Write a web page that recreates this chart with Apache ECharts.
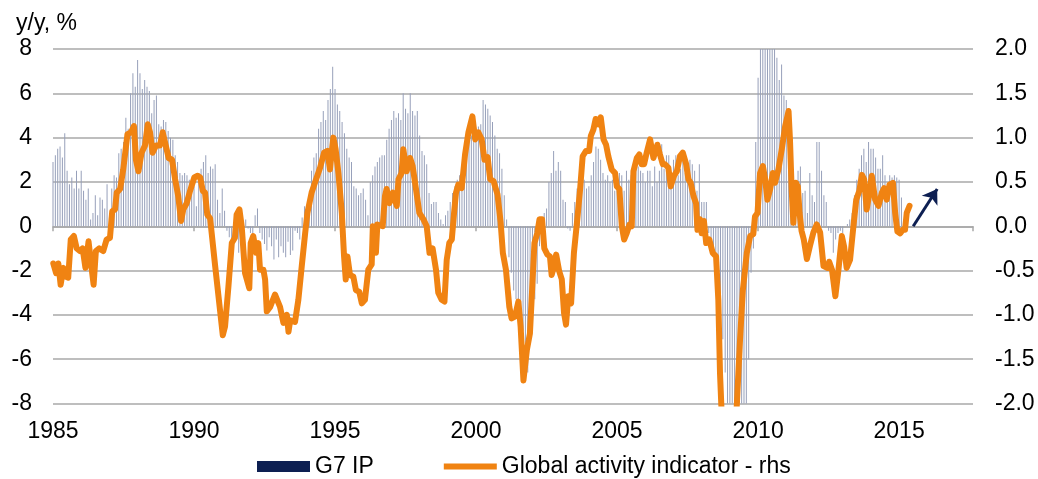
<!DOCTYPE html>
<html>
<head>
<meta charset="utf-8">
<script src="https://cdn.jsdelivr.net/npm/echarts@6/dist/echarts.min.js"></script>
<style>
html, body { margin: 0; padding: 0; background: #fff; }
#chart { width: 1038px; height: 479px; }
</style>
</head>
<body>
<div id="chart"></div>
<script>
// G7 IP, y/y %, monthly from Jan 1985 (one row per year)
var ipStartYear = 1985;
var ipValues = [
  2.9, 3.2, 3.5, 3.6, 3.1, 4.2, 2.5, 1.9, 2.2, 1.7, 2.5, 1.7,
  2.5, 1.6, 1.2, 1.7, 0.3, 0.6, 1.4, 0.5, 1.3, 1.2, 0.8, 1.9,
  0.4, 1.7, 2.3, 2.2, 3.3, 3.5, 3.8, 4.9, 4.4, 6.0, 6.9, 6.3,
  7.5, 6.9, 6.2, 6.6, 6.3, 6.1, 5.1, 5.7, 5.9, 4.6, 4.5, 4.8,
  4.7, 4.3, 4.0, 3.9, 3.2, 2.9, 2.4, 2.3, 2.4, 2.3, 2.1, 1.7,
  1.8, 0.9, 2.4, 2.6, 2.9, 3.2, 2.4, 2.7, 2.6, 2.8, 1.2, 0.6,
  1.7, 0.7, -0.2, -0.5, -0.6, -0.4, -0.6, -1.2, -0.2, -0.5, 0.3, -0.1,
  -0.3, -0.4, 0.5, 0.8, -0.3, -0.6, -0.8, -1.1, -0.5, -0.9, -1.5, -0.6,
  -1.4, -0.9, -1.2, -1.4, -0.7, -1.3, -1.1, -0.2, -0.3, -0.6, 0.4, 0.9,
  0.6, 1.2, 2.5, 3.1, 3.3, 4.4, 4.7, 5.2, 4.8, 5.7, 6.2, 7.2,
  6.2, 5.5, 5.2, 4.7, 4.2, 3.5, 3.1, 2.9, 1.8, 1.7, 1.4, 1.5,
  1.7, 1.2, 0.5, 2.0, 2.3, 2.7, 2.9, 3.1, 3.2, 3.2, 3.9, 4.4,
  4.8, 5.2, 4.9, 5.1, 4.8, 6.0, 5.3, 5.1, 6.0, 5.2, 5.0, 5.2,
  4.1, 3.4, 3.2, 2.8, 1.5, 1.0, 1.1, 1.1, 0.6, 0.3, 0.1, 0.5,
  0.7, 1.1, 1.5, 1.8, 2.1, 2.3, 2.7, 3.1, 3.5, 3.8, 4.1, 3.9,
  3.9, 4.5, 4.6, 5.7, 5.5, 5.3, 5.0, 4.7, 4.1, 3.5, 3.3, 2.6,
  1.4, 0.3, -1.4, -2.1, -2.9, -3.3, -3.6, -3.9, -4.7, -5.7, -6.6, -5.0,
  -4.5, -3.3, -2.6, -0.9, -0.3, 0.6, 0.8, 2.0, 2.4, 3.4, 2.5, 2.9,
  2.5, 1.2, 1.1, -0.1, -0.2, 0.6, 1.1, 1.7, 2.1, 2.2, 2.1, 1.7,
  1.8, 2.3, 2.9, 3.6, 3.5, 3.0, 2.4, 2.1, 2.3, 2.0, 2.1, 1.6,
  1.7, 2.4, 2.3, 1.6, 2.5, 2.1, 2.3, 1.8, 2.8, 2.7, 2.5, 2.4,
  2.0, 2.5, 2.5, 1.8, 2.7, 2.0, 2.5, 3.7, 2.6, 3.2, 3.2, 2.3,
  3.0, 3.2, 2.3, 2.6, 3.3, 2.4, 2.2, 3.0, 2.8, 2.5, 1.6, 2.8,
  1.1, 1.1, 1.1, -0.3, -0.6, -1.2, -2.1, -3.0, -4.1, -5.1, -6.6, -10.0,
  -14.0, -15.0, -16.0, -15.0, -14.0, -12.5, -11.0, -8.6, -6.0, -2.1, -1.0, 3.8,
  6.7, 9.5, 11.0, 12.0, 11.5, 10.5, 9.0, 8.5, 7.6, 6.6, 7.3, 5.9,
  5.7, 3.9, 2.1, 1.5, 1.2, 2.5, 2.7, 1.5, 1.6, 0.6, 2.4, 1.4,
  1.1, 3.8, 3.8, 2.5, 1.4, 1.1, -0.2, -0.3, -1.2, -0.6, -0.3, -0.2,
  -0.3, 0.0, 0.1, 0.3, 0.6, 1.4, 2.1, 2.6, 3.2, 3.5, 2.9, 3.8,
  3.5, 3.5, 3.1, 2.6, 2.6, 3.2, 2.3, 1.4, 2.3, 2.2, 2.3, 2.2,
  2.1, 1.3
];

// Global activity indicator (rhs), read at the line's turning points
var gaiYears = [
  1985.01, 1985.11, 1985.19, 1985.27, 1985.37, 1985.46, 1985.54, 1985.63, 1985.74, 1985.84, 1985.96,
  1986.05, 1986.15, 1986.26, 1986.36, 1986.44, 1986.52, 1986.64, 1986.78, 1986.9,
  1987.02, 1987.1, 1987.2, 1987.26, 1987.38, 1987.49, 1987.64, 1987.77, 1987.87, 1987.94,
  1988.03, 1988.14, 1988.26, 1988.36, 1988.44, 1988.53, 1988.65, 1988.79, 1988.89,
  1989.0, 1989.1, 1989.22, 1989.33, 1989.44, 1989.54, 1989.62, 1989.74, 1989.86,
  1990.01, 1990.13, 1990.22, 1990.31, 1990.39, 1990.47, 1990.57, 1990.75, 1990.92,
  1991.02, 1991.1, 1991.22, 1991.34, 1991.45, 1991.51, 1991.61, 1991.69, 1991.81, 1991.96,
  1992.01, 1992.1, 1992.2, 1992.28, 1992.34, 1992.46, 1992.52, 1992.58, 1992.7, 1992.87,
  1993.05, 1993.17, 1993.29, 1993.35, 1993.41, 1993.58, 1993.7, 1993.82, 1993.94,
  1994.02, 1994.17, 1994.35, 1994.47, 1994.61, 1994.73, 1994.82, 1994.88, 1994.94,
  1995.02, 1995.12, 1995.24, 1995.32, 1995.38, 1995.44, 1995.53, 1995.65, 1995.74, 1995.86, 1995.95,
  1996.06, 1996.18, 1996.3, 1996.34, 1996.45, 1996.5, 1996.69, 1996.77, 1996.83, 1996.93,
  1997.05, 1997.19, 1997.25, 1997.36, 1997.42, 1997.54, 1997.66, 1997.75, 1997.87, 1997.99,
  1998.13, 1998.25, 1998.35, 1998.46, 1998.58, 1998.66, 1998.78, 1998.88, 1998.96,
  1999.05, 1999.14, 1999.22, 1999.29, 1999.37, 1999.49, 1999.61, 1999.73, 1999.87, 1999.97,
  2000.08, 2000.2, 2000.3, 2000.41, 2000.5, 2000.62, 2000.76, 2000.87, 2000.95,
  2001.06, 2001.18, 2001.26, 2001.38, 2001.5, 2001.58, 2001.68, 2001.8, 2001.91, 2001.97,
  2002.07, 2002.17, 2002.25, 2002.34, 2002.42, 2002.53, 2002.62, 2002.68, 2002.77, 2002.84, 2002.95,
  2003.04, 2003.12, 2003.19, 2003.27, 2003.37, 2003.47, 2003.59, 2003.69, 2003.78, 2003.9,
  2004.01, 2004.07, 2004.16, 2004.24, 2004.34, 2004.42, 2004.52, 2004.61, 2004.69, 2004.81, 2004.93, 2004.99,
  2005.08, 2005.17, 2005.25, 2005.34, 2005.44, 2005.52, 2005.58, 2005.7, 2005.79, 2005.87, 2005.96,
  2006.05, 2006.17, 2006.29, 2006.35, 2006.43, 2006.52, 2006.62, 2006.7, 2006.82, 2006.9,
  2007.02, 2007.12, 2007.23, 2007.33, 2007.45, 2007.53, 2007.61, 2007.71, 2007.8, 2007.85, 2007.94,
  2008.0, 2008.08, 2008.16, 2008.27, 2008.39, 2008.51, 2008.59, 2008.65, 2008.72, 2008.9,
  2009.1, 2009.24, 2009.36, 2009.46, 2009.6, 2009.72, 2009.83, 2009.89, 2009.98,
  2010.07, 2010.17, 2010.25, 2010.33, 2010.43, 2010.52, 2010.6, 2010.72, 2010.84, 2010.96,
  2011.08, 2011.13, 2011.19, 2011.25, 2011.34, 2011.41, 2011.47, 2011.54, 2011.62, 2011.73, 2011.84, 2011.96,
  2012.08, 2012.2, 2012.32, 2012.46, 2012.52, 2012.62, 2012.74, 2012.85, 2012.97,
  2013.05, 2013.14, 2013.26, 2013.38, 2013.48, 2013.59, 2013.68, 2013.76, 2013.85, 2013.95,
  2014.03, 2014.15, 2014.27, 2014.39, 2014.47, 2014.56, 2014.66, 2014.78, 2014.86, 2014.94,
  2015.04, 2015.13, 2015.21, 2015.27, 2015.37
];
var gaiValues = [
  -0.42, -0.53, -0.42, -0.66, -0.47, -0.57, -0.58, -0.15, -0.11, -0.25, -0.28,
  -0.25, -0.47, -0.17, -0.45, -0.66, -0.28, -0.25, -0.28, -0.15,
  -0.13, 0.17, 0.19, 0.38, 0.42, 0.64, 1.04, 1.06, 1.13, 0.75,
  0.62, 0.83, 0.91, 1.15, 1.06, 0.83, 0.91, 0.91, 1.06,
  0.91, 0.77, 0.75, 0.53, 0.34, 0.06, 0.19, 0.26, 0.40,
  0.55, 0.57, 0.55, 0.40, 0.38, 0.13, 0.09, -0.45, -0.94,
  -1.23, -1.13, -0.68, -0.19, -0.13, 0.13, 0.19, 0.0, -0.53, -0.70,
  -0.19, -0.11, -0.30, -0.19, -0.49, -0.49, -0.60, -0.96, -0.91, -0.77,
  -0.91, -1.09, -1.0, -1.19, -1.06, -1.08, -0.83, -0.45, -0.08,
  0.15, 0.38, 0.55, 0.66, 0.83, 0.85, 0.64, 0.83, 1.0,
  0.87, 0.60, 0.15, -0.34, -0.60, -0.34, -0.55, -0.57, -0.72, -0.74, -0.87,
  -0.83, -0.49, -0.43, 0.0, -0.30, 0.02, 0.0, 0.34, 0.42, 0.26,
  0.38, 0.23, 0.53, 0.60, 0.87, 0.62, 0.77, 0.68, 0.42, 0.15,
  0.08, 0.0, -0.30, -0.25, -0.49, -0.75, -0.83, -0.85, -0.38,
  -0.19, -0.15, 0.15, 0.38, 0.47, 0.43, 0.81, 1.06, 1.24, 0.98,
  1.06, 0.98, 0.75, 0.78, 0.53, 0.51, 0.36, 0.05, -0.30,
  -0.49, -0.91, -1.04, -1.02, -0.85, -1.13, -1.74, -1.40, -1.21, -0.83,
  -0.19, -0.08, 0.08, 0.08, -0.25, -0.32, -0.34, -0.55, -0.45, -0.32, -0.51,
  -0.60, -0.98, -1.11, -0.79, -0.87, -0.30, 0.08, 0.42, 0.79, 0.85,
  0.85, 1.02, 1.09, 1.21, 1.15, 1.23, 0.98, 0.92, 0.79, 0.64, 0.60, 0.45,
  0.42, 0.0, -0.15, -0.08, 0.02, 0.0, 0.62, 0.77, 0.81, 0.70, 0.70,
  0.83, 0.98, 0.77, 0.75, 0.92, 0.81, 0.70, 0.70, 0.66, 0.45,
  0.57, 0.62, 0.79, 0.83, 0.70, 0.53, 0.49, 0.34, 0.26, -0.04, 0.08,
  -0.08, 0.06, -0.19, -0.15, -0.30, -0.34, -0.83, -1.66, -2.2, -2.6,
  -2.6, -2.05, -1.28, -0.72, -0.30, -0.11, -0.09, 0.11, 0.15,
  0.60, 0.68, 0.53, 0.30, 0.42, 0.60, 0.49, 0.64, 0.87, 1.13,
  1.30, 0.98, 0.42, 0.04, 0.49, 0.45, 0.15, -0.05, -0.15, -0.37, -0.22, -0.07,
  0.02, -0.07, -0.45, -0.47, -0.40, -0.49, -0.79, -0.49, -0.11,
  -0.23, -0.47, -0.38, 0.0, 0.30, 0.40, 0.58, 0.53, 0.19, 0.38,
  0.57, 0.30, 0.23, 0.38, 0.43, 0.30, 0.47, 0.49, 0.15, -0.06,
  -0.08, -0.04, -0.04, 0.15, 0.23
];

var xTickYears = [1985, 1990, 1995, 2000, 2005, 2010, 2015];
var arrowFrom = [2015.5, 0.0];
var arrowTo = [2016.35, 0.42];

var font = '"Liberation Sans", Arial, sans-serif';
var navy = '#0d1f52';
var barBlue = '#97a0ba';
var orange = '#f08312';
var gridGray = '#a8a8a8';

var ipData = ipValues.map(function (v, i) { return [ipStartYear + i / 12, v]; });
var gaiData = gaiYears.map(function (t, i) { return [t, gaiValues[i]]; });

var chart = echarts.init(document.getElementById('chart'));
chart.setOption({
  animation: false,
  textStyle: { fontFamily: font },
  title: {
    text: 'y/y, %', left: 16, top: 12, padding: 0,
    textStyle: { fontSize: 23, fontWeight: 'normal', color: '#000', fontFamily: font }
  },
  legend: {
    left: 257, top: 455, padding: 0, itemWidth: 53, itemHeight: 11, itemGap: 70,
    textStyle: { fontSize: 23, color: '#000', fontFamily: font },
    data: [
      { name: 'G7 IP', icon: 'path://M0,0H53V11H0Z', itemStyle: { color: navy, borderWidth: 0, decal: 'none' } },
      { name: 'Global activity indicator - rhs', icon: 'path://M0,0H53V6H0Z', itemStyle: { color: orange } }
    ]
  },
  grid: { left: 53, right: 65, top: 49, bottom: 75.5, containLabel: false, outerBoundsMode: 'none' },
  xAxis: [
    {
      type: 'value', min: 1985, max: 2017.62, interval: 5, position: 'bottom',
      axisLine: { show: false, onZero: false }, axisTick: { show: false }, splitLine: { show: false },
      axisLabel: {
        fontSize: 23, color: '#000', margin: 17, showMaxLabel: false, fontFamily: font,
        formatter: function (v) { return xTickYears.indexOf(v) >= 0 ? String(v) : ''; }
      }
    },
    {
      type: 'value', min: 1985, max: 2017.62, interval: 5, position: 'bottom',
      axisLine: { show: true, onZero: true, onZeroAxisIndex: 0, lineStyle: { color: gridGray, width: 1.5 } },
      axisTick: { show: true, length: 5, lineStyle: { color: gridGray, width: 1.5 } },
      axisLabel: { show: false }, splitLine: { show: false }
    }
  ],
  yAxis: [
    {
      type: 'value', min: -8, max: 8, interval: 2, position: 'left',
      axisLine: { show: false, onZero: false }, axisTick: { show: false },
      splitLine: { show: true, lineStyle: { color: gridGray, width: 1.5 } },
      axisLabel: { fontSize: 23, color: '#000', margin: 21, fontFamily: font }
    },
    {
      type: 'value', min: -2, max: 2, interval: 0.5, position: 'right',
      axisLine: { show: false, onZero: false }, axisTick: { show: false }, splitLine: { show: false },
      axisLabel: {
        fontSize: 23, color: '#000', margin: 22, fontFamily: font,
        formatter: function (v) { return v.toFixed(1); }
      }
    }
  ],
  series: [
    {
      name: 'G7 IP', type: 'bar', xAxisIndex: 0, yAxisIndex: 0,
      barWidth: 1, data: ipData, silent: true, z: 2,
      itemStyle: { color: barBlue }
    },
    {
      name: 'Global activity indicator - rhs', type: 'line', xAxisIndex: 0, yAxisIndex: 1,
      data: gaiData, symbol: 'none', showSymbol: false, silent: true, z: 3,
      lineStyle: { color: orange, width: 6, cap: 'round', join: 'round' },
      itemStyle: { color: orange },
      markLine: {
        silent: true, symbol: ['none', 'arrow'], symbolSize: 14,
        lineStyle: { color: navy, width: 3, type: 'solid' },
        itemStyle: { color: navy },
        label: { show: false },
        data: [[{ coord: arrowFrom }, { coord: arrowTo }]]
      }
    }
  ]
});
</script>
</body>
</html>
